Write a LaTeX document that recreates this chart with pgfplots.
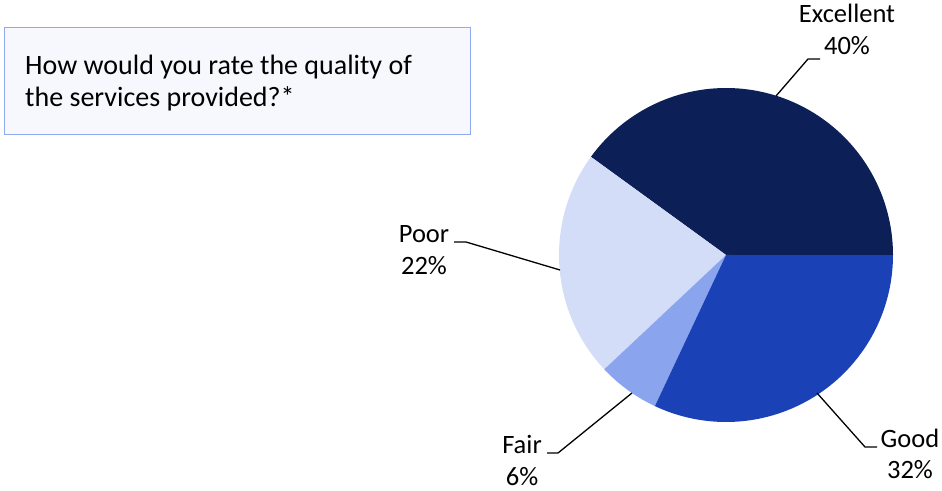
\documentclass[border=0pt]{standalone}
\usepackage{pgfplots}
\pgfplotsset{compat=1.18}
\usepackage{fontspec}
\setmainfont{Carlito}
\definecolor{cExc}{HTML}{0C1F57}
\definecolor{cGood}{HTML}{1A41B5}
\definecolor{cFair}{HTML}{8AA5EE}
\definecolor{cPoor}{HTML}{D3DDF7}
\definecolor{boxfill}{HTML}{F7F8FD}
\definecolor{boxline}{HTML}{8FAAF0}
% shares (percent)
\def\vExc{40}
\def\vGood{32}
\def\vFair{6}
\def\vPoor{22}
\pgfmathsetmacro{\aA}{0}
\pgfmathsetmacro{\aB}{\aA+3.6*\vExc}
\pgfmathsetmacro{\aC}{\aB+3.6*\vPoor}
\pgfmathsetmacro{\aD}{\aC+3.6*\vFair}
\pgfmathsetmacro{\aE}{\aD+3.6*\vGood}
\def\cx{726}
\def\cy{235}
\def\rr{167}
\begin{document}
\begin{tikzpicture}
\begin{axis}[x=1pt,y=1pt,xmin=0,xmax=942,ymin=0,ymax=490,hide axis,clip=false]
\draw[fill=boxfill,draw=boxline,line width=1pt] (axis cs:4.5,355) rectangle (axis cs:470.5,462);
\addplot[fill=cExc,draw=none,domain=\aA:\aB,samples=90] ({\cx+\rr*cos(x)},{\cy+\rr*sin(x)}) -- (axis cs:\cx,\cy) -- cycle;
\addplot[fill=cPoor,draw=none,domain=\aB:\aC,samples=60] ({\cx+\rr*cos(x)},{\cy+\rr*sin(x)}) -- (axis cs:\cx,\cy) -- cycle;
\addplot[fill=cFair,draw=none,domain=\aC:\aD,samples=20] ({\cx+\rr*cos(x)},{\cy+\rr*sin(x)}) -- (axis cs:\cx,\cy) -- cycle;
\addplot[fill=cGood,draw=none,domain=\aD:\aE,samples=80] ({\cx+\rr*cos(x)},{\cy+\rr*sin(x)}) -- (axis cs:\cx,\cy) -- cycle;
% leader lines
\addplot[black,line width=1.3pt,mark=none] coordinates {(776,394) (808,431) (820,431)};
\addplot[black,line width=1.3pt,mark=none] coordinates {(454,248) (466,248) (560,220)};
\addplot[black,line width=1.3pt,mark=none] coordinates {(547,37) (558,37) (632,97)};
\addplot[black,line width=1.3pt,mark=none] coordinates {(817,97) (865,43) (877,43)};
% texts
\begin{scope}[font=\fontsize{28}{32}\selectfont]
\node[anchor=base west,inner sep=0pt] at (axis cs:25,415) {How would you rate the quality of};
\node[anchor=base west,inner sep=0pt] at (axis cs:25,383) {the services provided?*};
\end{scope}
\begin{scope}[font=\fontsize{26.5}{32}\selectfont]
\node[anchor=base,inner sep=0pt] at (axis cs:847,467) {Excellent};
\node[anchor=base,inner sep=0pt] at (axis cs:847,435) {40\%};
\node[anchor=base,inner sep=0pt] at (axis cs:424,247) {Poor};
\node[anchor=base,inner sep=0pt] at (axis cs:424,215) {22\%};
\node[anchor=base,inner sep=0pt] at (axis cs:522,37) {Fair};
\node[anchor=base,inner sep=0pt] at (axis cs:522,5) {6\%};
\node[anchor=base,inner sep=0pt] at (axis cs:910,43) {Good};
\node[anchor=base,inner sep=0pt] at (axis cs:910,12) {32\%};
\end{scope}
\end{axis}
\path[use as bounding box] (0,0) rectangle (942pt,490pt);
\end{tikzpicture}
\end{document}
